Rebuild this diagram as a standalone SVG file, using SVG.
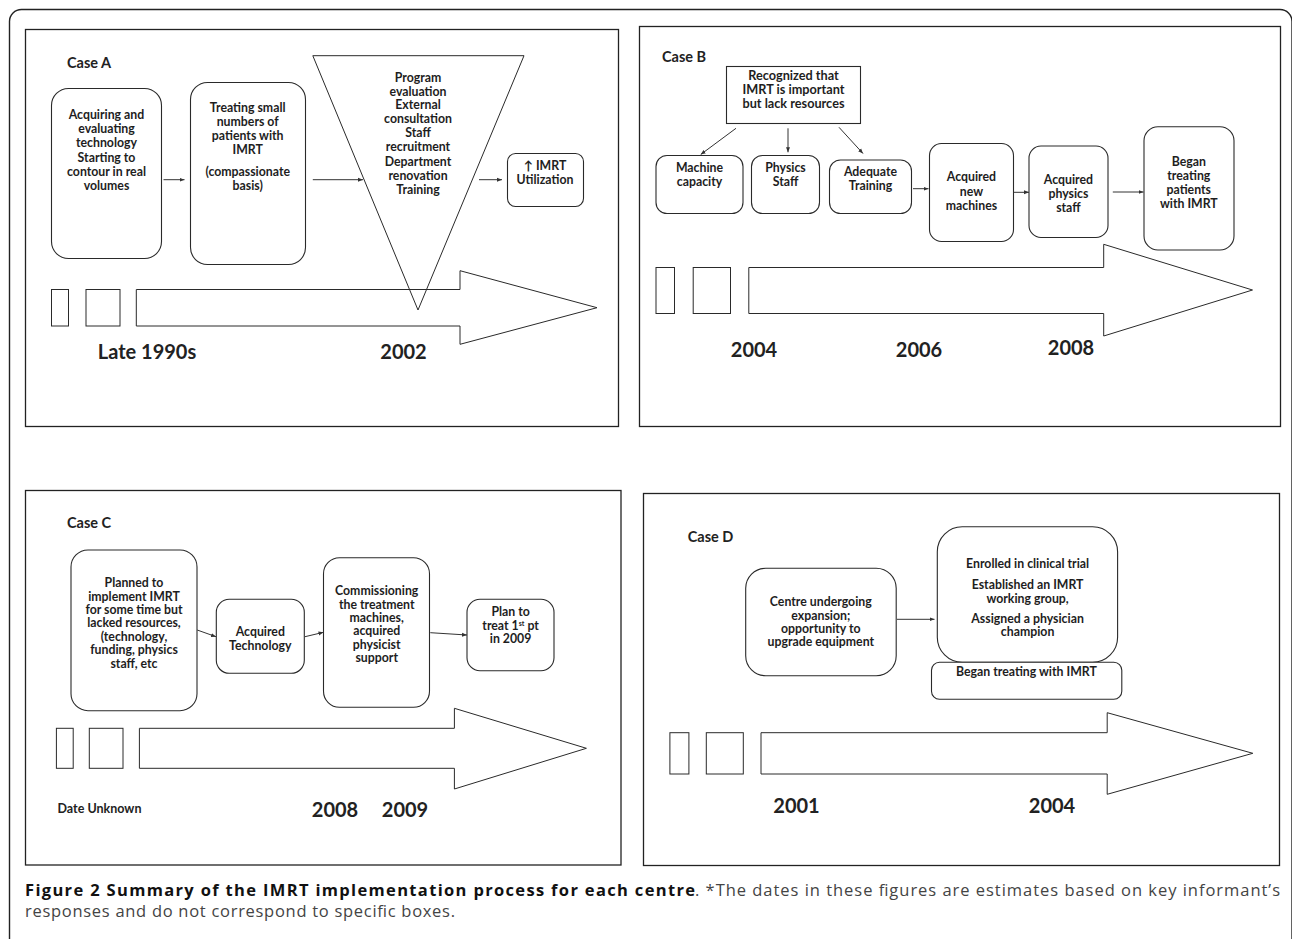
<svg xmlns="http://www.w3.org/2000/svg" width="1292" height="939" viewBox="0 0 1292 939">
<style>
.bg{fill:#fff}
.frame{fill:none;stroke:#222;stroke-width:1.4}
.panel{fill:none;stroke:#222;stroke-width:1.3}
.box{fill:#fff;stroke:#2a2a2a;stroke-width:1.1}
.tl{fill:#fff;stroke:#2a2a2a;stroke-width:1}
.c{fill:none;stroke:#333;stroke-width:1;marker-end:url(#ah)}
.t{font-family:Lato,'DejaVu Sans','Liberation Sans',sans-serif;font-weight:700;font-size:12.3px;fill:#1e1e1e;text-anchor:middle}
.case{font-family:Lato,'Liberation Sans',sans-serif;font-weight:700;font-size:14.5px;fill:#222}
.yr{font-family:Lato,'Liberation Sans',sans-serif;font-weight:700;font-size:20px;fill:#222;text-anchor:middle}
.cap{font-family:'Open Sans','Liberation Sans',sans-serif;font-size:16.5px;fill:#444}
.capb{font-weight:700;fill:#111}
</style>
<defs>
<marker id="ah" viewBox="0 0 10 10" refX="10" refY="5" markerWidth="5" markerHeight="5" orient="auto" markerUnits="userSpaceOnUse">
<path d="M0,1 L10,5 L0,9 z" fill="#333"/>
</marker>
</defs>
<rect class="bg" x="0" y="0" width="1292" height="939"/>
<path class="frame" d="M9.5 950 V21.5 A12 12 0 0 1 21.5 9.5 H1280 A12 12 0 0 1 1292 21.5 V950"/>

<!-- Panel A -->
<g id="panelA">
<rect class="panel" x="25.5" y="29.5" width="593" height="397"/>
<text class="case" x="67" y="68">Case A</text>
<g id="a-timeline">
<rect class="tl" x="51.5" y="289.5" width="17" height="36.5"/>
<rect class="tl" x="86" y="289.5" width="34" height="36.5"/>
<polygon class="tl" points="136.3,289.5 460,289.5 460,270.7 597,307.7 460,344.3 460,326 136.3,326"/>
</g>
<g id="a1">
<rect class="box" x="51.5" y="88.5" width="110" height="170" rx="17"/>
<text class="t" x="106.5" y="119">Acquiring and</text>
<text class="t" x="106.5" y="133.2">evaluating</text>
<text class="t" x="106.5" y="147.4">technology</text>
<text class="t" x="106.5" y="161.6">Starting to</text>
<text class="t" x="106.5" y="175.8">contour in real</text>
<text class="t" x="106.5" y="190">volumes</text>
</g>
<g id="a2">
<rect class="box" x="190.5" y="82.5" width="115" height="182" rx="17"/>
<text class="t" x="247.7" y="112.3">Treating small</text>
<text class="t" x="247.7" y="126.3">numbers of</text>
<text class="t" x="247.7" y="140.3">patients with</text>
<text class="t" x="247.7" y="154.3">IMRT</text>
<text class="t" x="247.7" y="176.3">(compassionate</text>
<text class="t" x="247.7" y="190.3">basis)</text>
</g>
<g id="a3">
<polygon fill="none" stroke="#2a2a2a" stroke-width="1" points="312.8,55.7 524,55.7 418,310"/>
<text class="t" x="418" y="81.7">Program</text>
<text class="t" x="418" y="95.5">evaluation</text>
<text class="t" x="418" y="109.4">External</text>
<text class="t" x="418" y="123.3">consultation</text>
<text class="t" x="418" y="137.3">Staff</text>
<text class="t" x="418" y="151.3">recruitment</text>
<text class="t" x="418" y="166.3">Department</text>
<text class="t" x="418" y="180">renovation</text>
<text class="t" x="418" y="194.3">Training</text>
</g>
<g id="a4">
<rect class="box" x="507.5" y="153.5" width="76" height="53" rx="8"/>
<text class="t" x="545" y="169.7">↑ IMRT</text>
<text class="t" x="545" y="183.7">Utilization</text>
</g>
<text class="yr" x="147" y="359.3">Late 1990s</text>
<text class="yr" x="403.5" y="359.3">2002</text>
</g>

<!-- Panel B -->
<g id="panelB">
<rect class="panel" x="639.5" y="26.5" width="641" height="400"/>
<text class="case" x="662" y="61.7">Case B</text>
<g id="b-timeline">
<rect class="tl" x="656" y="267.5" width="18.5" height="46"/>
<rect class="tl" x="693.2" y="267.5" width="37.3" height="46"/>
<polygon class="tl" points="748.8,267.5 1103.7,267.5 1103.7,244.3 1252.5,290 1103.7,336 1103.7,313.5 748.8,313.5"/>
</g>
<g id="b0">
<rect class="box" x="726.5" y="66.5" width="134" height="57"/>
<text class="t" x="793.5" y="80.3" style="font-size:12.7px">Recognized that</text>
<text class="t" x="793.5" y="94.3" style="font-size:12.7px">IMRT is important</text>
<text class="t" x="793.5" y="108.3" style="font-size:12.7px">but lack resources</text>
</g>
<g id="b1">
<rect class="box" x="656" y="155.5" width="87" height="58" rx="11"/>
<text class="t" x="699.5" y="172.3">Machine</text>
<text class="t" x="699.5" y="186.3">capacity</text>
</g>
<g id="b2">
<rect class="box" x="751.5" y="155.5" width="68" height="58" rx="11"/>
<text class="t" x="785.5" y="172.3">Physics</text>
<text class="t" x="785.5" y="186.3">Staff</text>
</g>
<g id="b3">
<rect class="box" x="829.5" y="160" width="82" height="53.5" rx="11"/>
<text class="t" x="870.5" y="176.3">Adequate</text>
<text class="t" x="870.5" y="190.3">Training</text>
</g>
<g id="b4">
<rect class="box" x="929.5" y="143.5" width="84" height="98" rx="12"/>
<text class="t" x="971.4" y="181.3">Acquired</text>
<text class="t" x="971.4" y="195.5">new</text>
<text class="t" x="971.4" y="210">machines</text>
</g>
<g id="b5">
<rect class="box" x="1029" y="146" width="79" height="91.5" rx="12"/>
<text class="t" x="1068.4" y="184.3">Acquired</text>
<text class="t" x="1068.4" y="198.3">physics</text>
<text class="t" x="1068.4" y="212.3">staff</text>
</g>
<g id="b6">
<rect class="box" x="1144" y="126.7" width="90" height="123.3" rx="14"/>
<text class="t" x="1188.8" y="165.7">Began</text>
<text class="t" x="1188.8" y="179.7">treating</text>
<text class="t" x="1188.8" y="193.7">patients</text>
<text class="t" x="1188.8" y="208">with IMRT</text>
</g>
<text class="yr" x="754" y="356.7">2004</text>
<text class="yr" x="919" y="356.7">2006</text>
<text class="yr" x="1071" y="355">2008</text>
</g>

<!-- Panel C -->
<g id="panelC">
<rect class="panel" x="25.5" y="490.5" width="595.5" height="374.5"/>
<text class="case" x="67" y="528.3">Case C</text>
<g id="c-timeline">
<rect class="tl" x="56.4" y="728.3" width="16.8" height="40"/>
<rect class="tl" x="89.3" y="728.3" width="33.7" height="40"/>
<polygon class="tl" points="139.4,728.3 454.4,728.3 454.4,708.3 586.4,748.3 454.4,789 454.4,768.3 139.4,768.3"/>
</g>
<g id="c1">
<rect class="box" x="71" y="550" width="126" height="160.7" rx="17"/>
<text class="t" x="134" y="587.3">Planned to</text>
<text class="t" x="134" y="600.7">implement IMRT</text>
<text class="t" x="134" y="614">for some time but</text>
<text class="t" x="134" y="627.3">lacked resources,</text>
<text class="t" x="134" y="640.7">(technology,</text>
<text class="t" x="134" y="654.2">funding, physics</text>
<text class="t" x="134" y="667.7">staff, etc</text>
</g>
<g id="c2">
<rect class="box" x="216.3" y="599.3" width="88" height="74" rx="13"/>
<text class="t" x="260.3" y="636.3">Acquired</text>
<text class="t" x="260.3" y="649.7">Technology</text>
</g>
<g id="c3">
<rect class="box" x="323.5" y="557.7" width="106" height="149.6" rx="16"/>
<text class="t" x="376.7" y="595.3">Commissioning</text>
<text class="t" x="376.7" y="608.5">the treatment</text>
<text class="t" x="376.7" y="621.7">machines,</text>
<text class="t" x="376.7" y="635.2">acquired</text>
<text class="t" x="376.7" y="648.5">physicist</text>
<text class="t" x="376.7" y="661.5">support</text>
</g>
<g id="c4">
<rect class="box" x="467" y="599.3" width="87" height="71.4" rx="13"/>
<text class="t" x="510.6" y="615.7">Plan to</text>
<text class="t" x="510.6" y="629.9">treat 1<tspan font-size="7" dy="-4">st</tspan><tspan dy="4"> pt</tspan></text>
<text class="t" x="510.6" y="643">in 2009</text>
</g>
<text class="case" x="57.5" y="813.3" style="font-size:12.5px">Date Unknown</text>
<text class="yr" x="335" y="816.7">2008</text>
<text class="yr" x="405" y="816.7">2009</text>
</g>

<!-- Panel D -->
<g id="panelD">
<rect class="panel" x="643.5" y="493.5" width="636" height="372"/>
<text class="case" x="687.7" y="542.3">Case D</text>
<g id="d-timeline">
<rect class="tl" x="669.9" y="732.7" width="19" height="41.3"/>
<rect class="tl" x="706.3" y="732.7" width="37" height="41.3"/>
<polygon class="tl" points="761,732.7 1107.2,732.7 1107.2,712.7 1252.8,753.3 1107.2,794.3 1107.2,774 761,774"/>
</g>
<g id="d1">
<rect class="box" x="745.7" y="568.3" width="150.5" height="107.4" rx="20"/>
<text class="t" x="820.8" y="606.3">Centre undergoing</text>
<text class="t" x="820.8" y="619.6">expansion;</text>
<text class="t" x="820.8" y="632.9">opportunity to</text>
<text class="t" x="820.8" y="646.2">upgrade equipment</text>
</g>
<g id="d2">
<rect class="box" x="937.3" y="526.7" width="180.3" height="135.6" rx="25"/>
<text class="t" x="1027.6" y="568.3">Enrolled in clinical trial</text>
<text class="t" x="1027.6" y="589.3">Established an IMRT</text>
<text class="t" x="1027.6" y="602.7">working group,</text>
<text class="t" x="1027.6" y="622.7">Assigned a physician</text>
<text class="t" x="1027.6" y="635.7">champion</text>
</g>
<g id="d3">
<rect class="box" x="931.5" y="662.3" width="190.3" height="37" rx="8"/>
<text class="t" x="1026.4" y="676.3">Began treating with IMRT</text>
</g>
<text class="yr" x="796.5" y="813.3">2001</text>
<text class="yr" x="1052" y="813.3">2004</text>
</g>

<!-- Connectors -->
<g id="connectors">
<line class="c" x1="163.5" y1="179.7" x2="184.5" y2="179.7"/>
<line class="c" x1="312.8" y1="179.7" x2="363" y2="179.7"/>
<line class="c" x1="479" y1="179.7" x2="502" y2="179.7"/>
<line class="c" x1="736" y1="128.3" x2="700.7" y2="154.5"/>
<line class="c" x1="788" y1="128.3" x2="788" y2="152.3"/>
<line class="c" x1="839" y1="127.3" x2="863" y2="153.5"/>
<line class="c" x1="913" y1="188.7" x2="928.5" y2="188.7"/>
<line class="c" x1="1013.5" y1="192.3" x2="1029" y2="192.3"/>
<line class="c" x1="1112.8" y1="192" x2="1143.5" y2="192"/>
<line class="c" x1="197.2" y1="630" x2="216" y2="636.7"/>
<line class="c" x1="305" y1="636.7" x2="323.5" y2="632.3"/>
<line class="c" x1="430.3" y1="632.7" x2="467" y2="635"/>
<line class="c" x1="897" y1="619.3" x2="934.5" y2="619.3"/>
</g>

<!-- Caption -->
<text class="cap capb" x="25" y="896" textLength="670" lengthAdjust="spacing">Figure 2 Summary of the IMRT implementation process for each centre</text>
<text class="cap" x="695" y="896" textLength="585" lengthAdjust="spacing">. *The dates in these figures are estimates based on key informant’s</text>
<text class="cap" x="25" y="917" textLength="430" lengthAdjust="spacing">responses and do not correspond to specific boxes.</text>
</svg>
